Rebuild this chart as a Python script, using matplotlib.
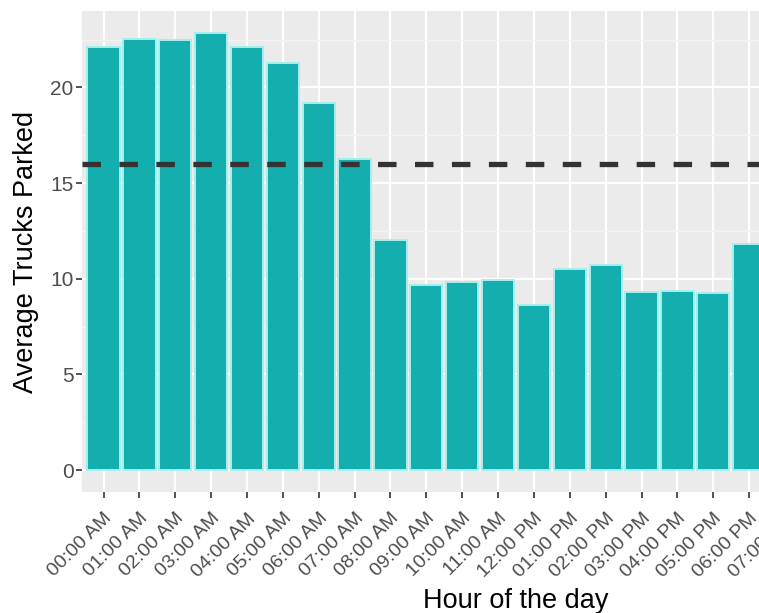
import matplotlib
matplotlib.use("Agg")
import matplotlib.pyplot as plt
import numpy as np

plt.rcParams['font.family'] = ['Liberation Sans', 'DejaVu Sans']

# hours shown on the (cropped) x axis
hours = ["00:00 AM", "01:00 AM", "02:00 AM", "03:00 AM", "04:00 AM", "05:00 AM",
         "06:00 AM", "07:00 AM", "08:00 AM", "09:00 AM", "10:00 AM", "11:00 AM",
         "12:00 PM", "01:00 PM", "02:00 PM", "03:00 PM", "04:00 PM", "05:00 PM",
         "06:00 PM", "07:00 PM"]
# average trucks parked per hour (bars visible in the picture)
avg_trucks = [22.1, 22.55, 22.5, 22.85, 22.1, 21.25, 19.2, 16.25, 12.05, 9.7,
              9.85, 9.95, 8.65, 10.5, 10.7, 9.3, 9.35, 9.28, 11.8]
threshold = 16.0
n_hours_full = 24  # the full panel holds 24 hours, the image is cut at the right

W, H = 759, 613
fig = plt.figure(figsize=(W / 100, H / 100), dpi=100)
left, right, top, bottom = 82, 950, 11, 492
ax = fig.add_axes([left / W, 1 - bottom / H, (right - left) / W, (bottom - top) / H])

ax.set_facecolor('#EBEBEB')
for s in ax.spines.values():
    s.set_visible(False)

x = np.arange(len(avg_trucks))
ax.bar(x, avg_trucks, width=0.9, color='#13AEAD', edgecolor='#A6F0EE',
       linewidth=1.4, zorder=3)
ax.axhline(threshold, color='#333333', linewidth=3.8, dashes=(3.5, 3.5), zorder=4)

ymax = max(avg_trucks)
ax.set_ylim(-0.05 * ymax, ymax * 1.05)
ax.set_xlim(-0.6, n_hours_full - 1 + 0.6)

ax.set_yticks([0, 5, 10, 15, 20])
ax.set_yticks([2.5, 7.5, 12.5, 17.5, 22.5], minor=True)
ax.set_xticks(np.arange(len(hours)))
ax.set_xticklabels(hours, rotation=45, ha='right', va='top', rotation_mode='anchor')

ax.grid(True, which='major', color='white', linewidth=1.6, zorder=0)
ax.grid(True, which='minor', axis='y', color='#F3F3F3', linewidth=1.0, zorder=0)
ax.set_axisbelow(True)

ax.tick_params(axis='both', which='major', color='#333333', length=4, width=1.2,
               labelcolor='#4D4D4D')
ax.tick_params(axis='y', labelsize=15, pad=2)
ax.tick_params(axis='x', labelsize=14, pad=9)
ax.tick_params(which='minor', length=0)

ax.set_ylabel("Average Trucks Parked", fontsize=19.5, color='black', labelpad=8)
ax.set_xlabel("Hour of the day", fontsize=19.5, color='black', labelpad=5)

fig.savefig("out.png", dpi=100)
